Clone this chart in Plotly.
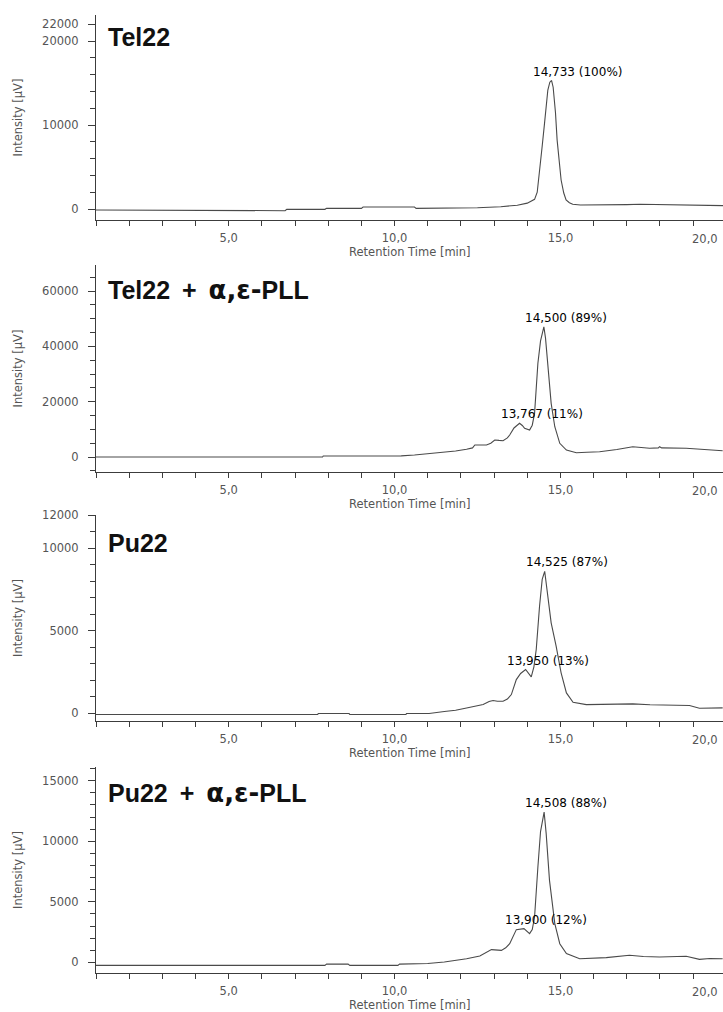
import plotly.graph_objects as go

# ---- chromatogram data: retention time [min] and detector signal [µV] ----
tel22_time = [1.0, 3.66, 3.7, 6.7, 6.75, 7.9, 7.95, 9.0, 9.05, 10.6, 10.65, 11.8, 12.5, 13.2,
              13.7, 14.0, 14.22, 14.3, 14.37, 14.45, 14.52, 14.62, 14.68, 14.733, 14.78, 14.85,
              14.9, 14.96, 15.02, 15.1, 15.17, 15.27, 15.37, 15.6, 16.0, 16.5, 17.0, 17.4, 17.8,
              18.5, 19.2, 19.9]
tel22_signal = [-120, -120, -200, -200, -40, -40, 80, 80, 240, 240, 80, 90, 150, 270,
                450, 700, 1150, 2000, 4290, 7500, 10200, 14170, 15100, 15300, 14500, 11500,
                8200, 5500, 3450, 1900, 1070, 750, 560, 480, 470, 500, 520, 560, 520,
                470, 430, 400]

tel22_pll_time = [1.0, 7.83, 7.85, 10.2, 10.6, 11.2, 11.84, 12.17, 12.35, 12.42, 12.77, 12.9,
                  13.02, 13.15, 13.27, 13.4, 13.47, 13.6, 13.767, 13.85, 13.92, 14.07, 14.15,
                  14.22, 14.32, 14.4, 14.5, 14.55, 14.62, 14.72, 14.83, 14.98, 15.18, 15.48,
                  15.8, 16.18, 16.7, 17.18, 17.69, 17.95, 17.99, 18.05, 18.79, 19.3, 19.89]
tel22_pll_signal = [0, 0, 360, 400, 750, 1330, 2200, 2780, 3300, 4340, 4340, 5000,
                    6150, 6000, 5900, 6900, 7960, 10500, 12190, 11400, 10380, 9770, 11500,
                    15800, 33900, 42000, 47100, 43000, 33900, 19420, 10960, 4950, 2530, 1560,
                    1700, 1920, 2700, 3730, 3150, 3300, 3730, 3300, 3150, 2700, 2280]

pu22_time = [1.0, 7.68, 7.7, 8.63, 8.65, 10.34, 10.36, 11.04, 11.5, 11.84, 12.17, 12.67, 12.85,
             12.97, 13.1, 13.27, 13.4, 13.52, 13.67, 13.8, 13.95, 14.03, 14.12, 14.2, 14.27,
             14.37, 14.45, 14.525, 14.58, 14.62, 14.72, 14.87, 15.02, 15.18, 15.38, 15.78,
             16.5, 17.18, 17.7, 18.19, 18.89, 19.19, 19.5, 19.89]
pu22_signal = [-90, -90, -30, -30, -90, -90, -30, -30, 100, 170, 310, 515, 700,
               760, 720, 715, 850, 1120, 2030, 2400, 2640, 2400, 2190, 2800, 3850,
               6470, 8100, 8590, 7700, 6880, 5470, 4050, 2440, 1220, 655, 515,
               530, 555, 500, 470, 455, 290, 320, 315]

pu22_pll_time = [1.0, 7.9, 7.95, 8.6, 8.65, 10.1, 10.15, 11.0, 11.5, 11.84, 12.17, 12.57, 12.75,
                 12.92, 13.22, 13.35, 13.47, 13.6, 13.67, 13.9, 14.0, 14.07, 14.15, 14.22,
                 14.32, 14.4, 14.508, 14.57, 14.67, 14.83, 14.98, 15.18, 15.58, 16.38, 17.08,
                 17.5, 17.99, 18.79, 19.19, 19.5, 19.89]
pu22_pll_signal = [-250, -250, -150, -150, -250, -250, -150, -100, 30, 150, 300, 520, 800,
                   1050, 990, 1200, 1540, 2300, 2700, 2780, 2550, 2370, 2700, 3740,
                   7870, 10800, 12410, 10630, 6770, 3200, 1540, 720, 300, 390, 580,
                   480, 440, 500, 250, 320, 300]

sample_names = ["Tel22", "Tel22", "Pu22", "Pu22"]
additive = [None, "α,ε-PLL", None, "α,ε-PLL"]
times = [tel22_time, tel22_pll_time, pu22_time, pu22_pll_time]
signals = [tel22_signal, tel22_pll_signal, pu22_signal, pu22_pll_signal]

peak_times = [[14.733], [13.767, 14.5], [13.95, 14.525], [13.9, 14.508]]
peak_labels = [["14,733 (100%)"], ["13,767 (11%)", "14,500 (89%)"],
               ["13,950 (13%)", "14,525 (87%)"], ["13,900 (12%)", "14,508 (88%)"]]

y_tickvals = [[0, 10000, 20000, 22000], [0, 20000, 40000, 60000],
              [0, 5000, 10000, 12000], [0, 5000, 10000, 15000]]
y_minor_step = [2000, 5000, 1000, 1000]
y_ranges = [[-1310, 23100], [-5420, 69440], [-480, 12000], [-880, 16130]]

x_range = [1.0, 19.9]
x_tickvals = [5, 10, 15]
x_ticktext = ["5,0", "10,0", "15,0"]
x_last_label = "20,0"

# ---- layout geometry (pixels) ----
W, H = 723, 1012
plot_left = 96
panel_px = [(15, 220), (265, 472), (515, 721), (767, 973)]   # (top, bottom) of each plot area
title_px = [37, 290, 543, 793]

def fy(p):
    return 1 - p / H

AXIS_COL = "#3c3c3c"
TEXT_COL = "#555555"
SMALL = dict(family="DejaVu Sans", size=11.5, color=TEXT_COL)


def panel_title(name, extra):
    """Sample name, optionally followed by the added ligand."""
    if extra is None:
        return "<b>" + name + "</b>"
    greek, chain = extra.split("-")
    return ("<b>" + name + "\u2009 + \u2009"
            "<span style=\"font-family:DejaVu Sans;font-size:26px\">" + greek + "-</span>"
            + chain + "</b>")


fig = go.Figure()
annotations = []
layout = {}

for i in range(4):
    n = "" if i == 0 else str(i + 1)
    xa, ya = "x" + n, "y" + n
    top, bottom = panel_px[i]

    fig.add_trace(go.Scatter(
        x=times[i], y=signals[i], mode="lines", xaxis=xa, yaxis=ya,
        line=dict(color="#4a4a4a", width=1.1), showlegend=False, hoverinfo="skip"))

    layout["xaxis" + n] = dict(
        domain=[plot_left / W, 1], anchor=ya, range=x_range, automargin=False,
        showline=True, linecolor=AXIS_COL, linewidth=1, mirror=False,
        showgrid=False, zeroline=False,
        ticks="outside", ticklen=5, tickcolor=AXIS_COL,
        tickvals=x_tickvals, ticktext=x_ticktext, tickfont=SMALL,
        ticklabelstandoff=2,
        minor=dict(dtick=1, tick0=1, ticks="outside", ticklen=5, tickcolor=AXIS_COL, showgrid=False),
    )
    layout["yaxis" + n] = dict(
        domain=[fy(bottom), fy(top)], anchor=xa, range=y_ranges[i], automargin=False,
        showline=True, linecolor=AXIS_COL, linewidth=1,
        showgrid=False, zeroline=False,
        ticks="outside", ticklen=7, tickcolor=AXIS_COL,
        tickvals=y_tickvals[i], ticktext=[str(v) for v in y_tickvals[i]], tickfont=SMALL,
        ticklabelstandoff=7,
        minor=dict(dtick=y_minor_step[i], tick0=0, ticks="outside", ticklen=5,
                   tickcolor=AXIS_COL, showgrid=False),
    )

    # sample name
    annotations.append(dict(
        text=panel_title(sample_names[i], additive[i]), xref="paper", yref="paper",
        x=106 / W, y=fy(title_px[i]), xanchor="left", yanchor="middle", showarrow=False,
        font=dict(family="Liberation Sans", size=25, color="#111111")))

    # axis titles
    annotations.append(dict(
        text="Intensity [µV]", xref="paper", yref="paper", textangle=-90,
        x=18 / W, y=fy((top + bottom) / 2), xanchor="center", yanchor="middle",
        showarrow=False, font=SMALL))
    annotations.append(dict(
        text="Retention Time [min]", xref="paper", yref="paper",
        x=(plot_left + W) / 2 / W, y=fy(bottom + 32), xanchor="center", yanchor="middle",
        showarrow=False, font=SMALL))
    annotations.append(dict(
        text=x_last_label, xref="paper", yref="paper",
        x=1, y=fy(bottom + 19), xanchor="right", yanchor="middle", xshift=-3,
        showarrow=False, font=SMALL))

    # peak labels: retention time and area share
    for pt, lbl in zip(peak_times[i], peak_labels[i]):
        pv = signals[i][times[i].index(pt)]
        annotations.append(dict(
            text=lbl, xref=xa, yref=ya, x=pt, y=pv, xanchor="left", yanchor="middle",
            xshift=-21, yshift=9, showarrow=False,
            font=dict(family="DejaVu Sans", size=12, color="#000000")))

fig.update_layout(
    width=W, height=H, margin=dict(l=0, r=0, t=0, b=0, pad=0), autosize=False,
    paper_bgcolor="white", plot_bgcolor="white",
    annotations=annotations, **layout)

fig.write_html("out.html")
